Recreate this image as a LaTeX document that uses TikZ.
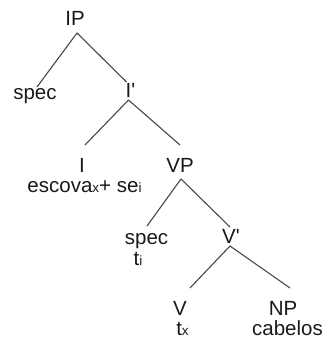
\documentclass[tikz,border=0pt]{standalone}
\usepackage{fontspec}
\setmainfont{Liberation Sans}
\begin{document}
\begin{tikzpicture}[x=1pt,y=-1pt,
  lbl/.style={anchor=base,inner sep=0pt,text=black!90,font=\fontsize{20.5}{24}\selectfont},
  branch/.style={draw=black!72,line width=1.1pt}]
\newcommand{\sbs}[1]{{\fontsize{13.5}{15}\selectfont #1}}
\useasboundingbox (0,0) rectangle (325,344);

% tree labels
\node[lbl] (IP)      at (75,26)    {IP};
\node[lbl] (spec)    at (35,100)   {spec};
\node[lbl] (Ibar)    at (130.5,98) {I\textquotesingle};
\node[lbl] (I)       at (82,172)   {I};
\node[lbl] (infl)    at (84.5,193) {escova\sbs{x}+ se\sbs{i}};
\node[lbl] (VP)      at (180,172)  {VP};
\node[lbl] (spectwo) at (146.5,244){spec};
\node[lbl] (ti)      at (138,265)  {t\sbs{i}};
\node[lbl] (Vbar)    at (231,243)  {V\textquotesingle};
\node[lbl] (V)       at (180,315)  {V};
\node[lbl] (tx)      at (182.5,335){t\sbs{x}};
\node[lbl] (NP)      at (283,315)  {NP};
\node[lbl] (cabelos) at (287.5,335){cabelos};

% branches
\draw[branch] ([xshift=2pt,yshift=-7pt]IP.base) -- ([xshift=2pt,yshift=13pt]spec.base);
\draw[branch] ([xshift=2pt,yshift=-7pt]IP.base) -- ([xshift=-4pt,yshift=16pt]Ibar.base);
\draw[branch] ([xshift=-2pt,yshift=-2pt]Ibar.base) -- ([xshift=3pt,yshift=27pt]I.base);
\draw[branch] ([xshift=-2pt,yshift=-2pt]Ibar.base) -- ([yshift=27pt]VP.base);
\draw[branch] ([xshift=1pt,yshift=-7pt]VP.base) -- ([xshift=0.5pt,yshift=18pt]spectwo.base);
\draw[branch] ([xshift=1pt,yshift=-7pt]VP.base) -- ([xshift=-1pt,yshift=16pt]Vbar.base);
\draw[branch] ([xshift=-1pt,yshift=-3pt]Vbar.base) -- ([xshift=10pt,yshift=27pt]V.base);
\draw[branch] ([xshift=-1pt,yshift=-3pt]Vbar.base) -- ([xshift=7pt,yshift=27pt]NP.base);
\end{tikzpicture}
\end{document}
